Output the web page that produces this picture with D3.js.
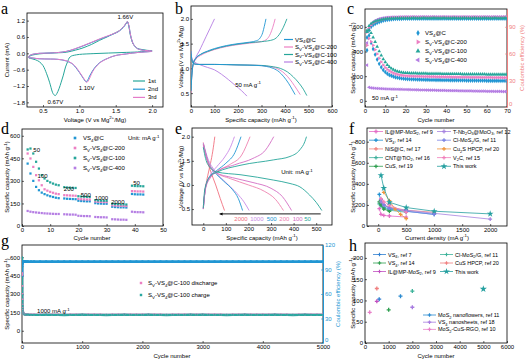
<!DOCTYPE html>
<html><head><meta charset="utf-8">
<script src="https://cdn.jsdelivr.net/npm/d3@7"></script>
<style>body{margin:0;background:#fff}</style>
</head><body>
<script>
// ================= DATA =================
// (a) CV curves [voltage V, current mA]
const cvLabels = ["1st", "2nd", "3rd"];
const cv1 = [[2.0,0.09],[1.9,0.07],[1.8,0.05],[1.6,0.03],[1.4,0.01],[1.2,-0.01],[1.0,-0.04],[0.93,-0.07],[0.89,-0.1],[0.86,-0.17],[0.84,-0.3],[0.81,-0.5],[0.78,-0.8],[0.75,-1.06],[0.72,-1.3],[0.69,-1.48],[0.67,-1.55],[0.65,-1.52],[0.63,-1.43],[0.61,-1.25],[0.59,-1.06],[0.55,-0.75],[0.5,-0.45],[0.45,-0.31],[0.4,-0.24],[0.35,-0.2],[0.31,-0.17],[0.3,-0.15],[0.32,-0.1],[0.36,-0.06],[0.45,-0.02],[0.6,0.01],[0.82,0.04],[0.95,0.12],[1.05,0.2],[1.17,0.33],[1.28,0.48],[1.38,0.6],[1.46,0.71],[1.53,0.8],[1.58,0.9],[1.62,1.02],[1.65,1.13],[1.66,1.17],[1.68,1.0],[1.7,0.68],[1.72,0.48],[1.74,0.34],[1.77,0.24],[1.8,0.18],[1.86,0.14],[1.93,0.11],[2.0,0.1]];
const cv2 = [[2.0,0.07],[1.9,0.05],[1.8,0.03],[1.65,-0.02],[1.5,-0.08],[1.42,-0.15],[1.35,-0.23],[1.28,-0.34],[1.22,-0.5],[1.18,-0.65],[1.14,-0.84],[1.11,-1.0],[1.09,-1.04],[1.07,-0.98],[1.04,-0.86],[1.0,-0.7],[0.95,-0.52],[0.91,-0.4],[0.82,-0.28],[0.7,-0.22],[0.6,-0.21],[0.45,-0.2],[0.35,-0.17],[0.3,-0.15],[0.31,-0.1],[0.34,-0.05],[0.45,0.0],[0.59,0.01],[0.82,0.07],[1.05,0.27],[1.28,0.52],[1.46,0.7],[1.54,0.8],[1.58,0.89],[1.62,1.0],[1.645,1.1],[1.66,1.15],[1.68,1.02],[1.7,0.72],[1.72,0.5],[1.74,0.35],[1.77,0.24],[1.8,0.17],[1.86,0.12],[1.93,0.1],[2.0,0.09]];
const cv3 = [[2.0,0.07],[1.9,0.05],[1.8,0.03],[1.65,-0.02],[1.5,-0.08],[1.42,-0.15],[1.35,-0.24],[1.28,-0.35],[1.22,-0.52],[1.18,-0.68],[1.15,-0.86],[1.12,-1.02],[1.1,-1.07],[1.08,-1.0],[1.05,-0.88],[1.01,-0.72],[0.96,-0.53],[0.91,-0.39],[0.82,-0.27],[0.7,-0.22],[0.6,-0.21],[0.45,-0.2],[0.35,-0.17],[0.3,-0.15],[0.31,-0.1],[0.34,-0.05],[0.45,0.0],[0.59,0.01],[0.82,0.07],[1.05,0.28],[1.28,0.53],[1.46,0.71],[1.54,0.81],[1.58,0.9],[1.62,1.02],[1.645,1.12],[1.66,1.17],[1.68,1.03],[1.7,0.72],[1.72,0.5],[1.74,0.35],[1.77,0.24],[1.8,0.17],[1.86,0.12],[1.93,0.1],[2.0,0.09]];
const cvPeaks = [[1.66,1.17,"1.66V"],[0.67,-1.55,"0.67V"],[1.10,-1.07,"1.10V"]];

// sample names
const samples = ["VS_{4}@C", "S_{V}-VS_{4}@C-200", "S_{V}-VS_{4}@C-100", "S_{V}-VS_{4}@C-400"];

// (b) discharge / charge at 50 mA/g [capacity, voltage]
const bDis = [
  [[0,1.35],[3,1.2],[8,1.12],[15,1.09],[30,1.08],[100,1.08],[200,1.07],[280,1.06],[320,1.04],[350,1.0],[375,0.93],[395,0.83],[415,0.7],[430,0.58],[443,0.47]],
  [[0,1.35],[3,1.2],[8,1.12],[15,1.09],[30,1.08],[100,1.08],[200,1.07],[290,1.06],[330,1.04],[365,1.0],[390,0.93],[410,0.84],[430,0.72],[450,0.58],[465,0.47]],
  [[0,1.3],[3,1.18],[8,1.11],[15,1.09],[30,1.08],[100,1.08],[200,1.07],[300,1.06],[340,1.04],[380,1.0],[410,0.93],[435,0.83],[460,0.7],[478,0.58],[493,0.45]],
  [[0,1.3],[5,1.18],[15,1.13],[40,1.07],[70,1.02],[100,0.97],[130,0.88],[160,0.77],[190,0.65],[215,0.55],[238,0.44]]
];
const bCha = [
  [[0,0.55],[2,0.75],[5,0.95],[10,1.1],[20,1.2],[40,1.28],[70,1.35],[100,1.4],[150,1.46],[200,1.5],[250,1.53],[280,1.56],[295,1.62],[305,1.72],[312,1.85],[319,2.0]],
  [[0,0.5],[2,0.72],[5,0.93],[10,1.08],[20,1.18],[40,1.26],[70,1.33],[100,1.38],[150,1.44],[200,1.48],[250,1.51],[300,1.54],[325,1.6],[338,1.7],[348,1.83],[358,2.0]],
  [[0,0.55],[2,0.75],[5,0.95],[10,1.1],[20,1.2],[40,1.28],[70,1.34],[100,1.39],[150,1.45],[200,1.49],[250,1.52],[300,1.54],[350,1.58],[375,1.68],[392,1.82],[408,2.0]],
  [[0,0.55],[2,0.8],[5,0.98],[10,1.1],[20,1.22],[35,1.35],[50,1.5],[65,1.65],[80,1.8],[90,1.9],[100,2.0]]
];

// (c) cycling at 50 mA/g: discharge capacity (mAh/g) and coulombic efficiency (%)
const cyclesC = d3.range(1, 71);
const capC = [
  [410,530,470,420,375,335,300,272,250,233,220,210,203,197,192,188,185,182,180,178,
   177,176,175,175,174,173,173,172,172,171,171,170,170,170,169,169,169,168,168,168,
   168,167,167,167,167,166,166,166,166,165,165,165,165,165,164,164,164,164,164,163,
   163,163,163,163,163,162,162,162,162,162],
  [450,505,480,450,415,380,345,315,290,270,255,243,233,225,219,214,210,207,205,203,
   202,201,200,200,199,199,198,198,197,197,197,196,196,196,195,195,195,195,194,194,
   194,194,193,193,193,193,192,192,192,192,192,191,191,191,191,191,190,190,190,190,
   190,190,189,189,189,189,189,188,188,188],
  [560,575,550,515,478,440,402,368,338,313,292,275,262,252,244,238,234,231,229,227,
   226,225,225,224,224,223,223,222,222,222,221,221,221,220,220,220,220,219,219,219,
   219,219,218,218,218,218,218,217,217,217,217,217,217,216,216,216,216,216,216,215,
   215,215,215,215,215,214,214,214,214,214],
  [290,110,106,104,102,101,100,99,98,97,96,96,95,95,94,94,93,93,92,92,
   91,91,90,90,89,89,88,88,88,87,87,86,86,86,85,85,84,84,84,83,
   83,83,82,82,82,81,81,81,80,80,80,80,79,79,79,78,78,78,78,77,
   77,77,77,76,76,76,76,75,75,75]
];
const ceC = [
  [78,86,90,92,93.5,94.5,95.5,96.3,97,97.5,97.9,98.2,98.5,98.7,98.9,99,99.1,99.1,99.2,99.2,
   99.3,99.2,99.3,99.4,99.3,99.2,99.3,99.3,99.4,99.3,99.3,99.2,99.3,99.4,99.3,99.2,99.3,99.3,99.4,99.3,
   99.3,99.2,99.3,99.4,99.3,99.2,99.3,99.3,99.4,99.3,99.3,99.2,99.3,99.4,99.3,99.2,99.3,99.3,99.4,99.3,
   99.3,99.2,99.3,99.4,99.3,99.2,99.3,99.3,99.4,99.3],
  [84,89,92,94,95.5,96.5,97.3,98,98.5,99,99.4,99.7,100,100.2,100.3,100.4,100.5,100.5,100.6,100.6,
   100.7,100.6,100.7,100.8,100.7,100.6,100.7,100.7,100.8,100.7,100.7,100.6,100.7,100.8,100.7,100.6,100.7,100.7,100.8,100.7,
   100.7,100.6,100.7,100.8,100.7,100.6,100.7,100.7,100.8,100.7,100.7,100.6,100.7,100.8,100.7,100.6,100.7,100.7,100.8,100.7,
   100.7,100.6,100.7,100.8,100.7,100.6,100.7,100.7,100.8,100.7],
  [86,91,93.5,95,96,96.8,97.5,98,98.5,98.8,99.1,99.3,99.4,99.5,99.6,99.6,99.7,99.7,99.7,99.8,
   99.8,99.7,99.8,99.9,99.8,99.7,99.8,99.8,99.9,99.8,99.8,99.7,99.8,99.9,99.8,99.7,99.8,99.8,99.9,99.8,
   99.8,99.7,99.8,99.9,99.8,99.7,99.8,99.8,99.9,99.8,99.8,99.7,99.8,99.9,99.8,99.7,99.8,99.8,99.9,99.8,
   99.8,99.7,99.8,99.9,99.8,99.7,99.8,99.8,99.9,99.8],
  [72,88,92,95,97,98,99,99.5,100,100.3,100.5,100.7,100.8,100.9,101,101,101.1,101.1,101.1,101.2,
   101.2,101.1,101.2,101.3,101.2,101.1,101.2,101.2,101.3,101.2,101.2,101.1,101.2,101.3,101.2,101.1,101.2,101.2,101.3,101.2,
   101.2,101.1,101.2,101.3,101.2,101.1,101.2,101.2,101.3,101.2,101.2,101.1,101.2,101.3,101.2,101.1,101.2,101.2,101.3,101.2,
   101.2,101.1,101.2,101.3,101.2,101.1,101.2,101.2,101.3,101.2]
];

// (d) rate performance
const cyclesD = [2,3,4,5,6, 7,8,9,10,11,12,13, 15,16,17,18,19, 20,21,22,23,24, 26,27,28,29,30, 32,33,34,35,36,37, 39,40,41,42,43];
const capD = [
  [415,349,300,260,238, 222,212,204,198,193,188,185, 183,181,180,179,178, 168,166,165,164,164, 152,150,149,148,148, 128,126,125,124,124,123, 213,211,210,210,209],
  [482,449,393,338,304, 271,244,235,227,221,215,212, 205,204,203,202,201, 180,178,177,176,176, 163,161,160,159,159, 138,136,135,134,134,133, 232,231,230,230,229],
  [509,515,482,427,382, 338,316,300,290,282,275,271, 258,256,255,254,253, 198,196,195,194,193, 172,170,169,168,168, 148,146,145,144,144,143, 268,266,265,265,264],
  [100,95,92,90,88, 86,84,83,82,81,80,80, 78,77,76,76,75, 68,67,66,66,65, 60,59,58,58,57, 45,44,43,42,42,41, 95,93,92,92,91]
];
const rateLabelsD = ["50","100","200","500","1000","2000","50"];

// (e) GCD at different current densities [capacity, voltage]
const eRates = ["2000","1000","500","200","100","50"];
const eDis = [
  [[0,1.88],[15,1.55],[35,1.25],[55,1.0],[75,0.72],[94,0.47]],
  [[0,1.87],[20,1.55],[50,1.3],[100,1.05],[150,0.82],[180,0.65],[203,0.47]],
  [[0,1.85],[20,1.5],[50,1.27],[90,1.08],[130,0.9],[155,0.72],[174,0.47]],
  [[0,1.85],[20,1.5],[50,1.28],[120,1.13],[200,1.0],[270,0.87],[320,0.7],[355,0.47]],
  [[0,1.83],[20,1.48],[50,1.27],[130,1.15],[220,1.05],[300,0.93],[350,0.76],[391,0.47]],
  [[0,1.78],[10,1.55],[30,1.36],[58,1.27],[167,1.21],[312,1.1],[384,1.03],[428,0.96],[471,0.79],[500,0.64],[525,0.47]]
];
const eCha = [
  [[0,0.55],[10,0.95],[20,1.2],[32,1.45],[42,1.7],[51,2.0]],
  [[0,0.52],[10,0.95],[30,1.2],[60,1.38],[95,1.58],[120,1.78],[138,2.0]],
  [[0,0.5],[10,0.95],[30,1.18],[60,1.3],[100,1.45],[140,1.67],[167,2.0]],
  [[0,0.5],[10,0.95],[30,1.16],[60,1.28],[120,1.43],[170,1.62],[207,2.0]],
  [[0,0.5],[10,0.92],[30,1.14],[60,1.27],[140,1.42],[220,1.55],[275,1.72],[312,2.0]],
  [[0,0.52],[5,0.85],[15,1.05],[35,1.2],[58,1.26],[167,1.41],[312,1.52],[384,1.59],[428,1.73],[450,1.9],[457,2.0]]
];

// (f) rate comparison with literature [current density, capacity]
const fNames = ["IL@MP-MoS_{2}, ref 9","VS_{4}, ref 14","NiS@C, ref 17","CNT@TiO_{2}, ref 16","CuS, ref 19",
                "T-Nb_{2}O_{5}@MoO_{3}, ref 12","Cl-MoS_{2}/G, ref 11","Cu_{2}S HPCP, ref 20","V_{2}C, ref 15","This work"];
const fData = [
  [[20,165],[50,110],[100,100],[200,95],[500,85]],
  [[20,300],[50,220],[100,180],[200,160],[500,140],[1000,110]],
  [[50,250],[100,200],[200,180],[500,150],[1000,130]],
  [[20,210],[50,190],[100,170],[200,150],[500,130]],
  [[20,230],[50,200],[100,160],[200,140]],
  [[50,230],[100,200],[200,170],[500,150],[1000,120],[2000,65]],
  [[50,250],[100,200],[200,170],[500,140],[1000,110]],
  [[100,320],[200,240],[300,160],[400,110],[500,70]],
  [[50,260],[100,230],[200,200],[500,130]],
  [[50,480],[100,360],[200,225],[500,175],[1000,140],[2000,115]]
];

// (g) long cycling at 1000 mA/g
const cyclesG = [1,2,3,4,5,6,8,10,13,16,20,25,30,40,50,60,80,100,150,200,
  300,400,500,600,700,800,900,1000,1100,1200,1300,1400,1500,1600,1700,1800,1900,2000,
  2100,2200,2300,2400,2500,2600,2700,2800,2900,3000,3100,3200,3300,3400,3500,3600,3700,3800,3900,4000,
  4100,4200,4300,4400,4500,4600,4700,4800,4900,5000];
const dischargeG = [470,560,455,365,300,255,212,185,166,155,147,141,138,135,134,133,132,131,131,131,
  131,132,131,131,130,131,131,132,131,131,131,130,131,131,132,131,131,131,
  132,131,131,130,131,131,131,132,131,132,131,131,131,130,131,131,132,131,131,131,
  131,132,131,131,130,131,132,131,131,131];
const chargeG = [600,520,430,350,290,245,205,180,162,152,145,140,137,134,133,132,131,131,130,130,
  130,131,130,130,129,130,130,131,130,130,130,129,130,130,131,130,130,130,
  131,130,130,129,130,130,130,131,130,131,130,130,130,129,130,130,131,130,130,130,
  130,131,130,130,129,130,131,130,130,130];
const ceG = [82,94,96.5,97.6,98.2,98.7,99,99.2,99.3,99.4,99.5,99.5,99.6,99.6,99.6,99.6,99.7,99.7,99.7,99.7,
  99.7,99.8,99.7,99.7,99.8,99.7,99.7,99.8,99.7,99.7,99.8,99.7,99.7,99.8,99.7,99.7,99.8,99.7,
  99.7,99.8,99.7,99.7,99.8,99.7,99.7,99.8,99.7,99.7,99.8,99.7,99.7,99.8,99.7,99.7,99.8,99.7,99.7,99.8,
  99.7,99.8,99.7,99.7,99.8,99.7,99.7,99.8,99.7,99.7];

// (h) cycle life comparison [cycle number, capacity]
const hNames = ["VS_{4}, ref 7","VS_{4}, ref 14","IL@MP-MoS_{2}, ref 9","Cl-MoS_{2}/G, ref 11","CuS HPCP, ref 20","This work",
                "MoS_{2} nanoflowers, ref 11","VS_{4} nanosheets, ref 18","MoS_{2}-CuS-RGO, ref 10"];
const hCycles = [600, 1000, 500, 2000, 500, 5000, 1500, 2000, 200];
const hCaps   = [103, 78, 98, 122, 128, 127, 110, 84, 72];

// ================= DRAWING =================
const FONT = "'Liberation Sans', Arial, sans-serif";
const FS = 6;
const COL = ['#2196d3', '#ec7fc3', '#26a69a', '#b57ee3'];
const svg = d3.select('body').append('svg').attr('width', 530).attr('height', 362)
  .style('font-family', FONT);

function rich(t, str, fs) {
  const parts = str.split(/(_\{[^}]*\}|\^\{[^}]*\})/).filter(s => s.length);
  let shift = 0;
  parts.forEach(p => {
    let txt = p, d = 0, size = fs;
    if (p.startsWith('_{')) { txt = p.slice(2, -1); d = fs * 0.3; size = fs * 0.72; }
    else if (p.startsWith('^{')) { txt = p.slice(2, -1); d = -fs * 0.4; size = fs * 0.72; }
    t.append('tspan').attr('dy', d - shift).attr('font-size', size).text(txt);
    shift = d;
  });
  return t;
}
function label(x, y, s, opts = {}) {
  const t = svg.append('text').attr('x', x).attr('y', y)
    .attr('text-anchor', opts.anchor || 'start').attr('dominant-baseline', 'central')
    .attr('font-size', opts.fs || FS).attr('fill', opts.color || '#000');
  return rich(t, s, opts.fs || FS);
}
function yTitle(x, cy, s, color) {
  const t = svg.append('text').attr('transform', `translate(${x},${cy}) rotate(-90)`)
    .attr('text-anchor', 'middle').attr('dominant-baseline', 'central')
    .attr('font-size', FS).attr('fill', color || '#000');
  rich(t, s, FS);
}
function letter(x, y, s) {
  svg.append('text').attr('x', x).attr('y', y).attr('font-family', "'Liberation Serif', 'Times New Roman', serif")
    .attr('font-size', 16).text(s);
}
let clipN = 0;
function panel(o) {
  const x = d3.scaleLinear().domain(o.xd).range([o.x0, o.x1]);
  const y = d3.scaleLinear().domain(o.yd).range([o.y1, o.y0]);
  const ax = svg.append('g').attr('transform', `translate(0,${o.y1})`)
    .call(d3.axisBottom(x).tickValues(o.xt).tickFormat(o.xf || d3.format('d')).tickSizeInner(-2).tickSizeOuter(0).tickPadding(1.5));
  const ay = svg.append('g').attr('transform', `translate(${o.x0},0)`)
    .call(d3.axisLeft(y).tickValues(o.yt).tickFormat(o.yf || d3.format('d')).tickSizeInner(-2).tickSizeOuter(0).tickPadding(2));
  [ax, ay].forEach(a => {
    a.select('.domain').remove();
    a.selectAll('text').attr('font-size', FS).attr('font-family', FONT).attr('fill', '#000');
    a.selectAll('line').attr('stroke', '#000').attr('stroke-width', 0.6);
  });
  svg.append('rect').attr('x', o.x0).attr('y', o.y0).attr('width', o.x1 - o.x0).attr('height', o.y1 - o.y0)
    .attr('fill', 'none').attr('stroke', '#000').attr('stroke-width', 0.8);
  const id = 'clip' + (clipN++);
  svg.append('clipPath').attr('id', id).append('rect')
    .attr('x', o.x0).attr('y', o.y0).attr('width', o.x1 - o.x0).attr('height', o.y1 - o.y0);
  const g = svg.append('g').attr('clip-path', `url(#${id})`);
  return { x, y, g, o };
}
function rightAxis(p, yd, ticks, color) {
  const y2 = d3.scaleLinear().domain(yd).range([p.o.y1, p.o.y0]);
  const a = svg.append('g').attr('transform', `translate(${p.o.x1},0)`)
    .call(d3.axisRight(y2).tickValues(ticks).tickFormat(d3.format('d')).tickSizeInner(-2).tickSizeOuter(0).tickPadding(2));
  a.select('.domain').attr('stroke', color).attr('stroke-width', 1);
  a.selectAll('text').attr('font-size', FS).attr('font-family', FONT).attr('fill', color);
  a.selectAll('line').attr('stroke', color).attr('stroke-width', 0.6);
  a.selectAll('text').filter(d => d === 0).attr('dy', '-0.25em');
  return { y2, a };
}
function xTitle(cx, y, s) {
  const t = svg.append('text').attr('x', cx).attr('y', y).attr('text-anchor', 'middle')
    .attr('dominant-baseline', 'central').attr('font-size', FS);
  rich(t, s, FS);
}
const f1 = d3.format('.1f');

// ---------- (a) ----------
{
  const p = panel({ x0: 27, x1: 163, y0: 13, y1: 107, xd: [0.28, 2.15], yd: [-1.97, 1.48],
    xt: [0.5, 1.0, 1.5, 2.0], yt: [-1.8, -1.2, -0.6, 0.0, 0.6, 1.2], xf: f1, yf: f1 });
  const cols = ['#26a69a', '#2196d3', '#e57cc9'];
  const line = d3.line().x(d => p.x(d[0])).y(d => p.y(d[1])).curve(d3.curveCatmullRom.alpha(0.5));
  [cv1, cv2, cv3].forEach((c, i) => p.g.append('path').attr('d', line(c)).attr('fill', 'none')
    .attr('stroke', cols[i]).attr('stroke-width', 1));
  const off = [[-2, -4, 'middle'], [0, 6, 'middle'], [0, 6, 'middle']];
  cvPeaks.forEach((pk, i) => label(p.x(pk[0]) + off[i][0], p.y(pk[1]) + off[i][1], pk[2], { anchor: 'middle' }));
  cvLabels.forEach((l, i) => {
    const yy = 81 + i * 8.2;
    svg.append('line').attr('x1', 133).attr('x2', 145).attr('y1', yy).attr('y2', yy).attr('stroke', cols[i]).attr('stroke-width', 1.2);
    label(148, yy, l);
  });
  yTitle(6.5, 60, 'Current (mA)');
  xTitle(95, 119.5, 'Voltage (V vs Mg^{2+}/Mg)');
  letter(1, 14, 'a');
}

// ---------- (b) ----------
{
  const p = panel({ x0: 191, x1: 332, y0: 6, y1: 107, xd: [0, 600], yd: [0.22, 2.26],
    xt: [0, 100, 200, 300, 400, 500, 600], yt: [0.5, 1.0, 1.5, 2.0], yf: f1 });
  const line = d3.line().x(d => p.x(d[0])).y(d => p.y(d[1])).curve(d3.curveMonotoneX);
  [3, 1, 2, 0].forEach(i => {
    p.g.append('path').attr('d', line(bDis[i])).attr('fill', 'none').attr('stroke', COL[i]).attr('stroke-width', 0.9);
    p.g.append('path').attr('d', line(bCha[i])).attr('fill', 'none').attr('stroke', COL[i]).attr('stroke-width', 0.9);
  });
  samples.forEach((s, i) => {
    const yy = 39.5 + i * 7.5;
    svg.append('line').attr('x1', 284).attr('x2', 293).attr('y1', yy).attr('y2', yy).attr('stroke', COL[i]).attr('stroke-width', 1.2);
    label(295, yy, s);
  });
  label(p.x(243), p.y(0.67), '50 mA g^{-1}', { anchor: 'middle' });
  yTitle(180.5, 57, 'Voltage (V vs Mg^{2+}/Mg)');
  xTitle(261, 119.5, 'Specific capacity (mAh g^{-1})');
  letter(175, 14, 'b');
}

// ---------- (c) ----------
{
  const p = panel({ x0: 365, x1: 507, y0: 9, y1: 107, xd: [0, 70], yd: [-50, 745],
    xt: [0, 10, 20, 30, 40, 50, 60, 70], yt: [0, 200, 400, 600] });
  const { y2 } = rightAxis(p, [0, 110], [0, 30, 60, 90], '#f08080');
  const syms = [
    d3.symbol().type(d3.symbolDiamond).size(7),
    d3.symbol().type(d3.symbolTriangle).size(6),
    d3.symbol().type(d3.symbolTriangle).size(6),
    d3.symbol().type(d3.symbolTriangle).size(6)
  ];
  const rot = [0, 90, 0, -90];
  [3, 0, 1, 2].forEach(i => {
    cyclesC.forEach((c, k) => {
      p.g.append('path').attr('d', syms[i]()).attr('fill', COL[i])
        .attr('transform', `translate(${p.x(c)},${p.y(capC[i][k])}) rotate(${rot[i]})`);
      p.g.append('path').attr('d', syms[i]()).attr('fill', COL[i])
        .attr('transform', `translate(${p.x(c)},${y2(ceC[i][k])}) rotate(${rot[i]})`);
    });
  });
  samples.forEach((s, i) => {
    const yy = 33 + i * 9;
    svg.append('path').attr('d', d3.symbol().type(i === 0 ? d3.symbolDiamond : d3.symbolTriangle).size(10)())
      .attr('fill', COL[i]).attr('transform', `translate(418,${yy}) rotate(${rot[i]})`);
    label(425, yy, s);
  });
  label(372, 98, '50 mA g^{-1}');
  yTitle(352.5, 58, 'Specific capacity (mAh g^{-1})');
  yTitle(522, 58, 'Coulombic efficiency (%)', '#f08080');
  xTitle(436, 119.5, 'Cycle number');
  letter(347, 14, 'c');
}

// ---------- (d) ----------
{
  const p = panel({ x0: 22, x1: 163, y0: 129, y1: 226, xd: [0, 50], yd: [0, 645],
    xt: [0, 10, 20, 30, 40, 50], yt: [0, 150, 300, 450, 600] });
  const sym = d3.symbol().type(d3.symbolSquare).size(5);
  [3, 0, 1, 2].forEach(i => {
    cyclesD.forEach((c, k) => {
      p.g.append('path').attr('d', sym()).attr('fill', COL[i])
        .attr('transform', `translate(${p.x(c)},${p.y(capD[i][k])})`);
    });
  });
  const lpos = [[5.2, 505], [7.3, 330], [16.6, 246], [22.6, 206], [28.2, 184], [34, 160], [40.6, 285]];
  rateLabelsD.forEach((l, i) => label(p.x(lpos[i][0]), p.y(lpos[i][1]), l, { anchor: 'middle' }));
  samples.forEach((s, i) => {
    const yy = 138 + i * 10;
    svg.append('path').attr('d', d3.symbol().type(d3.symbolSquare).size(7)()).attr('fill', COL[i])
      .attr('transform', `translate(75,${yy})`);
    label(83, yy, s);
  });
  label(128, 138, 'Unit: mA g^{-1}');
  yTitle(7, 177, 'Specific capacity (mAh g^{-1})');
  xTitle(92, 237.5, 'Cycle number');
  letter(1, 134, 'd');
}

// ---------- (e) ----------
{
  const p = panel({ x0: 192, x1: 332, y0: 128, y1: 225, xd: [-50, 570], yd: [0.17, 2.18],
    xt: [0, 100, 200, 300, 400, 500], yt: [0.5, 1.0, 1.5, 2.0], yf: f1 });
  const ecol = ['#f0707f', '#c98ae6', '#2196d3', '#ee82b0', '#d46ec4', '#26a69a'];
  const line = d3.line().x(d => p.x(d[0])).y(d => p.y(d[1])).curve(d3.curveMonotoneX);
  eRates.forEach((r, i) => {
    p.g.append('path').attr('d', line(eDis[i])).attr('fill', 'none').attr('stroke', ecol[i]).attr('stroke-width', 0.9);
    p.g.append('path').attr('d', line(eCha[i])).attr('fill', 'none').attr('stroke', ecol[i]).attr('stroke-width', 0.9);
  });
  const ya = p.y(0.40);
  svg.append('line').attr('x1', p.x(72)).attr('x2', p.x(520)).attr('y1', ya).attr('y2', ya).attr('stroke', '#000').attr('stroke-width', 0.9);
  svg.append('path').attr('d', `M${p.x(72)},${ya} l3,-1.5 l0,3 z`).attr('fill', '#000');
  const lx = [167, 237, 303, 359, 418, 462];
  eRates.forEach((r, i) => label(p.x(lx[i]), p.y(0.30), r, { anchor: 'middle', color: ecol[i] }));
  label(p.x(345), p.y(1.27), 'Unit: mA g^{-1}');
  yTitle(181, 177, 'Voltage (V vs Mg^{2+}/Mg)');
  xTitle(262, 237.5, 'Specific capacity (mAh g^{-1})');
  letter(175, 134, 'e');
}

// ---------- (f) ----------
{
  const p = panel({ x0: 367, x1: 507, y0: 128, y1: 226, xd: [-200, 2300], yd: [0, 930],
    xt: [0, 500, 1000, 1500, 2000], yt: [0, 200, 400, 600, 800] });
  const fcol = ['#e46cc6', '#2191d0', '#f0857f', '#3fb09c', '#2e9e4f', '#a683e0', '#7b83e3', '#f0963c', '#f07fba', '#26a0a0'];
  const line = d3.line().x(d => p.x(d[0])).y(d => p.y(d[1]));
  fData.forEach((s, i) => {
    p.g.append('path').attr('d', line(s)).attr('fill', 'none').attr('stroke', fcol[i]).attr('stroke-width', 0.8);
    const sym = d3.symbol().type(i === 9 ? d3.symbolStar : d3.symbolCross).size(i === 9 ? 14 : 8);
    s.forEach(d => p.g.append('path').attr('d', sym()).attr('fill', fcol[i])
      .attr('transform', `translate(${p.x(d[0])},${p.y(d[1])})`));
  });
  fNames.forEach((n, i) => {
    const col = Math.floor(i / 5), row = i % 5;
    const x1 = col ? 437 : 369, yy = 131.5 + row * 8.7;
    svg.append('line').attr('x1', x1).attr('x2', x1 + 14).attr('y1', yy).attr('y2', yy).attr('stroke', fcol[i]).attr('stroke-width', 0.8);
    svg.append('path').attr('d', d3.symbol().type(i === 9 ? d3.symbolStar : d3.symbolCross).size(i === 9 ? 14 : 8)())
      .attr('fill', fcol[i]).attr('transform', `translate(${x1 + 7},${yy})`);
    label(x1 + 16, yy, n, { fs: 5.5 });
  });
  yTitle(352.5, 177, 'Specific capacity (mAh g^{-1})');
  xTitle(437, 237.5, 'Current density (mA g^{-1})');
  letter(349, 134, 'f');
}

// ---------- (g) ----------
{
  const p = panel({ x0: 22, x1: 323, y0: 245, y1: 343, xd: [0, 5000], yd: [-100, 700],
    xt: [0, 1000, 2000, 3000, 4000, 5000], yt: [0, 150, 300, 450, 600] });
  const { y2 } = rightAxis(p, [0, 120], [0, 30, 60, 90, 120], '#2196d3');
  const lineL = (arr) => d3.line().x((d, k) => p.x(cyclesG[k])).y(d => p.y(d))(arr);
  p.g.append('path').attr('d', lineL(dischargeG)).attr('fill', 'none').attr('stroke', '#ec7fc3').attr('stroke-width', 2.4);
  p.g.append('path').attr('d', lineL(chargeG)).attr('fill', 'none').attr('stroke', '#2aa8a0').attr('stroke-width', 2.4);
  p.g.append('path').attr('d', d3.line().x((d, k) => p.x(cyclesG[k])).y(d => y2(d))(ceG))
    .attr('fill', 'none').attr('stroke', '#2196d3').attr('stroke-width', 2.6);
  cyclesG.forEach((c, k) => {
    p.g.append('circle').attr('cx', p.x(c)).attr('cy', p.y(dischargeG[k])).attr('r', 1.1).attr('fill', '#ec7fc3');
    p.g.append('circle').attr('cx', p.x(c)).attr('cy', p.y(chargeG[k])).attr('r', 1.1).attr('fill', '#2aa8a0');
    p.g.append('circle').attr('cx', p.x(c)).attr('cy', y2(ceG[k])).attr('r', 1.3).attr('fill', '#2196d3');
  });
  [['#ec7fc3', 'S_{V}-VS_{4}@C-100 discharge'], ['#2aa8a0', 'S_{V}-VS_{4}@C-100 charge']].forEach((d, i) => {
    const yy = 283 + i * 12;
    svg.append('path').attr('d', d3.symbol().type(d3.symbolSquare).size(6)()).attr('fill', d[0])
      .attr('transform', `translate(141,${yy})`);
    label(148, yy, d[1]);
  });
  label(p.x(250), p.y(160), '1000 mA g^{-1}');
  yTitle(7, 294, 'Specific capacity (mAh g^{-1})');
  yTitle(338, 294, 'Coulombic efficiency (%)', '#2196d3');
  xTitle(172, 355.5, 'Cycle number');
  letter(1, 246, 'g');
}

// ---------- (h) ----------
{
  const p = panel({ x0: 365, x1: 507, y0: 243, y1: 343, xd: [0, 6000], yd: [0, 235],
    xt: [0, 1000, 2000, 3000, 4000, 5000, 6000], yt: [0, 50, 100, 150, 200] });
  const hcol = ['#2f7fd0', '#2e9e4f', '#c04fc0', '#3cb39a', '#f07f7f', '#26a0a0', '#2a8ad0', '#a77be0', '#e880c8'];
  hCycles.forEach((c, i) => {
    const sym = d3.symbol().type(i === 5 ? d3.symbolStar : d3.symbolCross).size(i === 5 ? 16 : 9);
    p.g.append('path').attr('d', sym()).attr('fill', hcol[i]).attr('transform', `translate(${p.x(c)},${p.y(hCaps[i])})`);
  });
  hNames.forEach((n, i) => {
    let x1, yy;
    if (i < 6) { const col = Math.floor(i / 3), row = i % 3; x1 = col ? 440 : 373; yy = 254.5 + row * 8.5; }
    else { x1 = 423; yy = 315 + (i - 6) * 7.2; }
    svg.append('line').attr('x1', x1).attr('x2', x1 + 13).attr('y1', yy).attr('y2', yy).attr('stroke', hcol[i]).attr('stroke-width', 0.8);
    svg.append('path').attr('d', d3.symbol().type(i === 5 ? d3.symbolStar : d3.symbolCross).size(i === 5 ? 14 : 7)())
      .attr('fill', hcol[i]).attr('transform', `translate(${x1 + 6.5},${yy})`);
    label(x1 + 15, yy, n, { fs: 5.5 });
  });
  yTitle(352.5, 293, 'Specific capacity (mAh g^{-1})');
  xTitle(436, 355.5, 'Cycle number');
  letter(349, 251, 'h');
}
</script>
</body></html>
